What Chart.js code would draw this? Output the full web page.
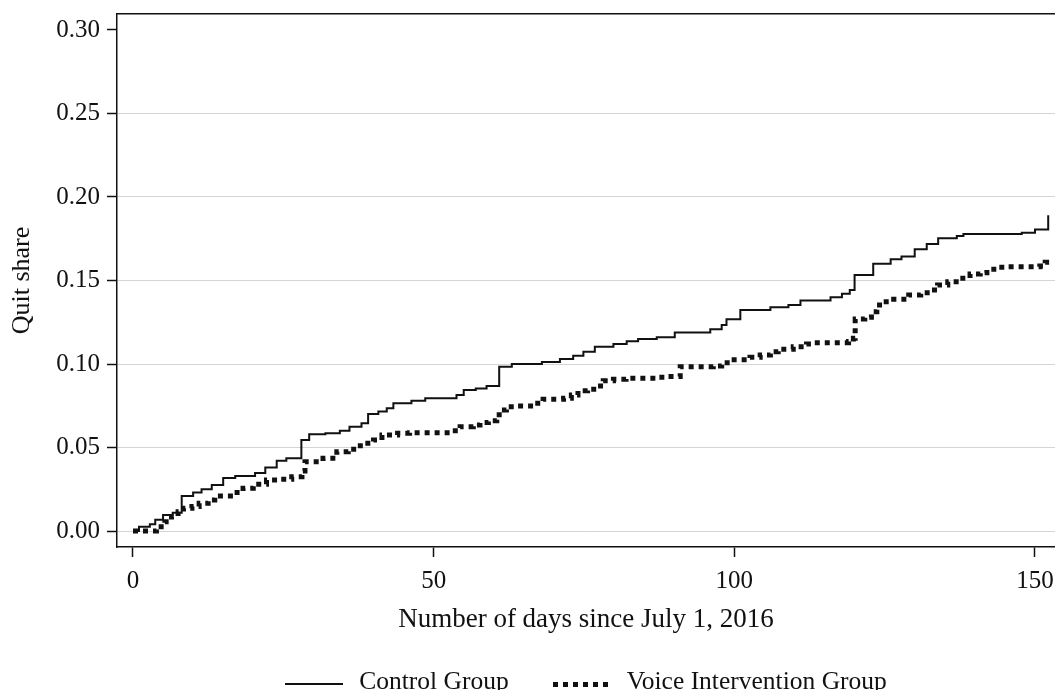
<!DOCTYPE html>
<html>
<head>
<meta charset="utf-8">
<script src="https://cdn.jsdelivr.net/npm/chart.js@4.4.1/dist/chart.umd.min.js"></script>
<style>
  html, body { margin: 0; padding: 0; background: #fff; }
  #wrap { position: relative; width: 1055px; height: 690px; }
  #legend {
    position: absolute; left: 117px; width: 938px; top: 666px; height: 30px;
    display: flex; justify-content: center; align-items: center;
    font: 25.5px 'Liberation Serif', 'Times New Roman', serif; color: #111;
  }
  .item { display: flex; align-items: center; }
  .item + .item { margin-left: 44px; }
  .swatch { width: 58px; margin-right: 16px; position: relative; top: 3px; }
  .solid { height: 2px; background: #111; }
  .dots { height: 5px; background: repeating-linear-gradient(to right, #111 0 5px, transparent 5px 10px); }
</style>
</head>
<body>
<div id="wrap">
  <canvas id="chart" width="1055" height="690"></canvas>
  <div id="legend">
    <div class="item"><span class="swatch solid"></span>Control Group</div>
    <div class="item"><span class="swatch dots"></span>Voice Intervention Group</div>
  </div>
</div>
<script>
// 累積離職比例（Kaplan-Meier 風格階梯線），數值由原圖讀出
const X_TICKS = [0, 50, 100, 150];
const Y_TICKS = [0, 0.05, 0.10, 0.15, 0.20, 0.25, 0.30];

// Control Group：每一步的日數與新的累積比例
const ctrlDays = [0, 1.0, 2.8, 3.7, 5.0, 6.6, 8.1, 10, 11.4, 13.1, 15, 17, 20.3, 22, 23.9, 25.5,
  28, 29.3, 32, 34.4, 36, 38, 39.1, 40.8, 42.2, 43.3, 46.3, 48.6, 53.8, 55, 57, 58.8,
  60.9, 63, 68, 71, 73.2, 74.9, 76.8, 79.9, 82.1, 84, 87.1, 90.1, 96, 97.9, 98.7, 101,
  106, 109, 111, 116, 117.9, 119.2, 120, 123.1, 126, 127.8, 130, 132, 133.9, 137, 138.1,
  147.8, 150, 152.2];
const ctrlShare = [0, 0.0026, 0.004, 0.0068, 0.0096, 0.011, 0.021, 0.023, 0.025, 0.0275, 0.0317, 0.033, 0.0347, 0.038, 0.042, 0.0436,
  0.0545, 0.058, 0.0586, 0.060, 0.0625, 0.0645, 0.070, 0.0715, 0.0735, 0.0765, 0.078, 0.0795, 0.0814, 0.0844, 0.0854, 0.0868,
  0.0984, 0.100, 0.1012, 0.103, 0.105, 0.1074, 0.1104, 0.112, 0.1136, 0.115, 0.116, 0.1188, 0.1208, 0.1234, 0.1268, 0.1323,
  0.134, 0.1353, 0.138, 0.140, 0.142, 0.1443, 0.1533, 0.160, 0.1627, 0.1643, 0.1687, 0.1719, 0.1753, 0.1766, 0.1778,
  0.1786, 0.1806, 0.189];

// Voice Intervention Group
const voiceDays = [0, 3.9, 5.3, 6.4, 7.5, 8.4, 9.8, 11, 12.5, 13.6, 16.7, 18.3, 20, 22.2, 24, 26.4,
  28.1, 28.6, 31.6, 33.9, 35.8, 37.2, 38.6, 40, 41.4, 44, 46, 53, 54.4, 56.6, 57.7, 59.1,
  60.5, 60.9, 62.1, 63.8, 66.6, 68.2, 71.6, 72.9, 74, 75.6, 77.1, 78.2, 79.9, 82, 87.1, 89,
  91, 96.5, 97.9, 99.3, 102.6, 104.3, 106, 107.3, 109.8, 112, 113, 119, 119.8, 120.1, 121.7,
  122.8, 123.7, 124.8, 126.5, 129, 131, 132.5, 133.8, 135.5, 137.5, 139.2, 140.9, 142, 143.6,
  145, 150.8, 151.7, 152.6];
const voiceShare = [0, 0.0026, 0.0056, 0.0086, 0.0116, 0.0136, 0.0146, 0.0166, 0.0186, 0.021, 0.023, 0.0256, 0.028, 0.0305, 0.031, 0.0325,
  0.036, 0.0415, 0.0435, 0.0475, 0.049, 0.051, 0.0525, 0.0545, 0.0575, 0.0585, 0.0589, 0.060, 0.0625, 0.0635, 0.0649, 0.066,
  0.0675, 0.0725, 0.0744, 0.0748, 0.0765, 0.0789, 0.0795, 0.0814, 0.084, 0.0849, 0.0868, 0.090, 0.0908, 0.0914, 0.092, 0.0925,
  0.0984, 0.0988, 0.1008, 0.1026, 0.104, 0.1054, 0.1074, 0.1088, 0.1104, 0.112, 0.1127, 0.1134, 0.1154, 0.127, 0.128,
  0.1313, 0.1353, 0.1373, 0.1387, 0.1413, 0.1427, 0.1443, 0.1473, 0.1493, 0.1513, 0.1539, 0.1547, 0.1567, 0.1579,
  0.1583, 0.1587, 0.161, 0.161];

const FONT = "'Liberation Serif', 'Times New Roman', serif";
const INK = '#111';

const toPoints = (xs, ys) => xs.map((x, i) => ({ x, y: ys[i] }));

new Chart(document.getElementById('chart'), {
  type: 'line',
  data: {
    datasets: [
      {
        label: 'Control Group',
        data: toPoints(ctrlDays, ctrlShare),
        borderColor: INK, borderWidth: 2, stepped: 'before',
        pointRadius: 0, fill: false,
      },
      {
        label: 'Voice Intervention Group',
        data: toPoints(voiceDays, voiceShare),
        borderColor: INK, borderWidth: 5, borderDash: [5, 5], borderCapStyle: 'butt',
        stepped: 'before', pointRadius: 0, fill: false,
      },
    ],
  },
  options: {
    responsive: false,
    animation: false,
    layout: { padding: { left: 0, right: 0, top: 0, bottom: 45 } },
    plugins: { legend: { display: false }, tooltip: { enabled: false } },
    scales: {
      x: {
        type: 'linear', position: 'bottom', min: -2.66, max: 153.33,
        afterBuildTicks: (s) => { s.ticks = X_TICKS.map((v) => ({ value: v })); },
        afterFit: (s) => { s.height = 98; s.paddingLeft = 0; s.paddingRight = 0; },
        border: { color: INK, width: 1.5 },
        grid: { drawOnChartArea: false, tickLength: 10, tickColor: INK, tickWidth: 1.5 },
        ticks: { color: INK, padding: 9, maxRotation: 0, font: { family: FONT, size: 25 } },
        title: { display: true, text: 'Number of days since July 1, 2016', color: INK,
          padding: { top: 0, bottom: 9 }, font: { family: FONT, size: 27 } },
      },
      xTop: {
        type: 'linear', position: 'top', min: -2.66, max: 153.33,
        afterFit: (s) => { s.height = 14; },
        border: { color: INK, width: 1.5 },
        grid: { display: false },
        ticks: { display: false },
      },
      y: {
        type: 'linear', position: 'left', min: -0.00958, max: 0.30958,
        afterBuildTicks: (s) => { s.ticks = Y_TICKS.map((v) => ({ value: v })); },
        afterFit: (s) => { s.width = 117; s.paddingTop = 0; s.paddingBottom = 0; },
        border: { color: INK, width: 1.5 },
        grid: {
          color: (ctx) => (ctx.tick && ctx.tick.value > 0.29 ? 'rgba(0,0,0,0)' : '#d4d4d4'),
          lineWidth: 1, tickLength: 10, tickColor: INK, tickWidth: 1.5,
        },
        ticks: { color: INK, padding: 7, font: { family: FONT, size: 25 },
          callback: (v) => Number(v).toFixed(2) },
        title: { display: true, text: 'Quit share', color: INK,
          padding: { top: 7, bottom: 0 }, font: { family: FONT, size: 26 } },
      },
    },
  },
});
</script>
</body>
</html>
